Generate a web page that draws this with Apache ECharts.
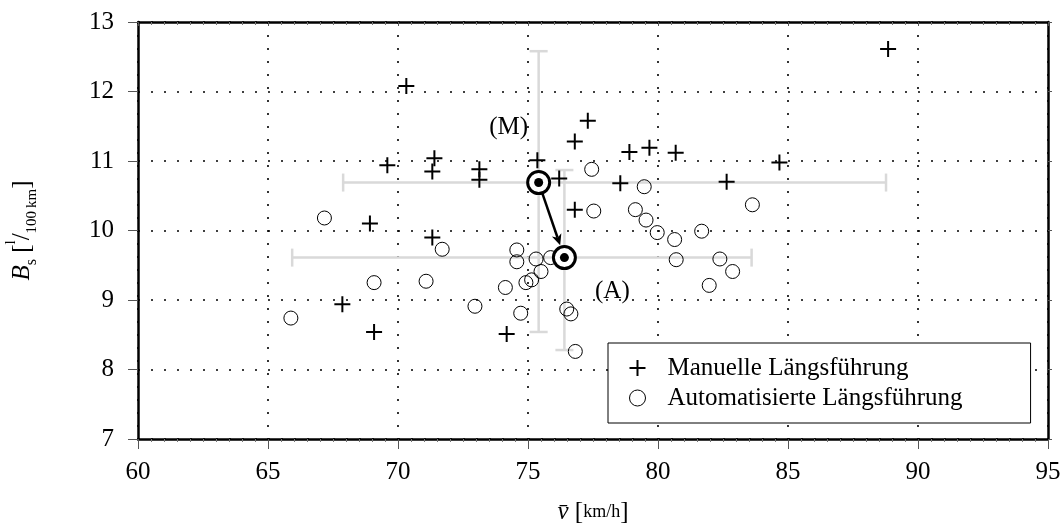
<!DOCTYPE html>
<html>
<head>
<meta charset="utf-8">
<script src="https://cdn.jsdelivr.net/npm/echarts@6/dist/echarts.min.js"></script>
<style>
  html, body { margin: 0; padding: 0; background: #fff; }
  #main { width: 1064px; height: 529px; }
</style>
</head>
<body>
<div id="main"></div>
<script>
// Manuelle Längsführung (+)
const manualV = [88.85, 70.32, 77.3, 76.8, 78.9, 79.67, 80.68, 75.36, 73.13, 73.13, 76.2, 78.55, 82.64, 76.8, 84.67, 69.59, 71.4, 71.32, 68.92, 71.32, 67.86, 69.08, 74.18];
const manualB = [12.61, 12.08, 11.58, 11.28, 11.13, 11.19, 11.12, 11.01, 10.88, 10.73, 10.75, 10.68, 10.70, 10.30, 10.98, 10.94, 11.04, 10.85, 10.10, 9.90, 8.94, 8.54, 8.51];

// Automatisierte Längsführung (o)
const autoV = [67.17, 71.7, 69.08, 71.08, 65.88, 77.45, 79.47, 77.53, 79.13, 79.54, 79.97, 80.64, 81.68, 83.63, 80.7, 82.38, 82.87, 81.97, 74.57, 74.57, 75.31, 75.87, 75.5, 75.14, 74.92, 74.13, 72.96, 74.72, 76.49, 76.65, 76.82];
const autoB = [10.18, 9.73, 9.25, 9.27, 8.74, 10.88, 10.63, 10.28, 10.30, 10.15, 9.97, 9.87, 9.99, 10.37, 9.58, 9.59, 9.41, 9.21, 9.72, 9.55, 9.59, 9.61, 9.41, 9.29, 9.25, 9.18, 8.91, 8.81, 8.87, 8.80, 8.26];

// Mittelwerte (M) und (A) mit Streuung
const meanLabels = ['(M)', '(A)'];
const meanV = [75.41, 76.4];
const meanB = [10.69, 9.61];
const vLo = [67.89, 65.93];
const vHi = [88.77, 83.6];
const bLo = [8.54, 8.28];
const bHi = [12.58, 10.87];

const seriesNames = ['Manuelle Längsführung', 'Automatisierte Längsführung'];

const FONT = '"Liberation Serif", "DejaVu Serif", serif';
const crossPath = 'path://M7,0h2v7h7v2h-7v7h-2v-7h-7v-2h7z';

var chart = echarts.init(document.getElementById('main'));

const manualData = manualV.map((v, i) => [v, manualB[i]]);
const autoData = autoV.map((v, i) => [v, autoB[i]]);
const errData = meanV.map((v, i) => [v, meanB[i], vLo[i], vHi[i], bLo[i], bHi[i]]);
const labelOffsets = [[-30, -55], [48, 34]];
const meanData = meanV.map((v, i) => ({
  value: [v, meanB[i]],
  label: {
    show: true,
    formatter: meanLabels[i],
    position: 'inside',
    offset: labelOffsets[i],
    fontFamily: FONT,
    fontSize: 25,
    color: '#000'
  }
}));

var gridLine = { show: true, lineStyle: { color: '#000', type: [2, 11], width: 1.6 } };

var option = {
  animation: false,
  backgroundColor: '#fff',
  grid: { left: 138, right: 16, top: 22, bottom: 90, outerBoundsMode: 'none', containLabel: false },
  legend: {
    orient: 'vertical',
    left: 608,
    top: 343,
    padding: [12, 68, 12, 21],
    itemGap: 4,
    itemWidth: 16,
    itemHeight: 16,
    borderColor: '#000',
    borderWidth: 1,
    borderRadius: 0,
    backgroundColor: '#fff',
    formatter: '{t|{name}}',
    textStyle: {
      fontFamily: FONT, fontSize: 25, color: '#000', lineHeight: 26,
      rich: { t: { fontFamily: FONT, fontSize: 25, color: '#000', lineHeight: 26, padding: [0, 0, 0, 17] } }
    },
    data: [
      { name: seriesNames[0], icon: crossPath, itemStyle: { color: '#000' } },
      { name: seriesNames[1], icon: 'circle', itemStyle: { color: 'transparent', borderColor: '#000', borderWidth: 1 } }
    ]
  },
  xAxis: [
    {
      type: 'value', min: 60, max: 95, interval: 5, position: 'bottom',
      name: '{v|v\u0304} [{s|km/h}]',
      nameLocation: 'middle',
      nameGap: 61,
      nameTextStyle: {
        fontFamily: FONT, fontSize: 25, color: '#000',
        rich: {
          v: { fontFamily: FONT, fontSize: 25, fontStyle: 'italic', color: '#000' },
          s: { fontFamily: FONT, fontSize: 18, color: '#000' }
        }
      },
      axisLine: { show: true, lineStyle: { color: '#000', width: 2.5 } },
      axisTick: { show: true, inside: false, length: 10, lineStyle: { color: '#555', width: 1 } },
      minorTick: { show: true, splitNumber: 10, length: 3, lineStyle: { color: '#777' } },
      axisLabel: { fontFamily: FONT, fontSize: 25, color: '#000', margin: 21 },
      splitLine: gridLine
    },
    {
      type: 'value', min: 60, max: 95, interval: 5, position: 'top',
      axisLine: { show: true, lineStyle: { color: '#000', width: 2.5 } },
      axisTick: { show: true, inside: true, length: 4, lineStyle: { color: '#555' } },
      minorTick: { show: true, splitNumber: 10, length: 3, lineStyle: { color: '#777' } },
      axisLabel: { show: false },
      splitLine: { show: false }
    }
  ],
  yAxis: [
    {
      type: 'value', min: 7, max: 13, interval: 1, position: 'left',
      name: '{b|B}{s|s} [{n|l}/{d|100\u2009km}]',
      nameLocation: 'middle',
      nameRotate: 90,
      nameGap: 98,
      nameTextStyle: {
        fontFamily: FONT, fontSize: 25, color: '#000',
        rich: {
          b: { fontFamily: FONT, fontSize: 25, fontStyle: 'italic', color: '#000', lineHeight: 36 },
          s: { fontFamily: FONT, fontSize: 16, color: '#000', verticalAlign: 'bottom' },
          n: { fontFamily: FONT, fontSize: 15, color: '#000', verticalAlign: 'top' },
          d: { fontFamily: FONT, fontSize: 15, color: '#000', verticalAlign: 'bottom' }
        }
      },
      axisLine: { show: true, lineStyle: { color: '#000', width: 2.5 } },
      axisTick: { show: true, inside: false, length: 10, lineStyle: { color: '#555', width: 1 } },
      axisLabel: { fontFamily: FONT, fontSize: 25, color: '#000', margin: 24 },
      splitLine: gridLine
    },
    {
      type: 'value', min: 7, max: 13, interval: 1, position: 'right',
      axisLine: { show: true, lineStyle: { color: '#000', width: 2.5 } },
      axisTick: { show: true, inside: false, length: 4, lineStyle: { color: '#555' } },
      axisLabel: { show: false },
      splitLine: { show: false }
    }
  ],
  series: [
    {
      // Streubalken
      type: 'custom',
      z: 1,
      silent: true,
      data: errData,
      renderItem: function (params, api) {
        var c = api.coord([api.value(0), api.value(1)]);
        var l = api.coord([api.value(2), api.value(1)]);
        var r = api.coord([api.value(3), api.value(1)]);
        var b = api.coord([api.value(0), api.value(4)]);
        var t = api.coord([api.value(0), api.value(5)]);
        var st = { stroke: '#d9d9d9', lineWidth: 2.5 };
        var cap = 9;
        return {
          type: 'group',
          children: [
            { type: 'line', shape: { x1: l[0], y1: c[1], x2: r[0], y2: c[1] }, style: st },
            { type: 'line', shape: { x1: l[0], y1: c[1] - cap, x2: l[0], y2: c[1] + cap }, style: st },
            { type: 'line', shape: { x1: r[0], y1: c[1] - cap, x2: r[0], y2: c[1] + cap }, style: st },
            { type: 'line', shape: { x1: c[0], y1: b[1], x2: c[0], y2: t[1] }, style: st },
            { type: 'line', shape: { x1: c[0] - cap, y1: b[1], x2: c[0] + cap, y2: b[1] }, style: st },
            { type: 'line', shape: { x1: c[0] - cap, y1: t[1], x2: c[0] + cap, y2: t[1] }, style: st }
          ]
        };
      }
    },
    {
      name: seriesNames[0],
      type: 'scatter',
      z: 2,
      symbol: crossPath,
      symbolSize: 16,
      itemStyle: { color: '#000', opacity: 1 },
      data: manualData
    },
    {
      name: seriesNames[1],
      type: 'scatter',
      z: 2,
      symbol: 'circle',
      symbolSize: 14,
      itemStyle: { color: 'transparent', borderColor: '#000', borderWidth: 1, opacity: 1 },
      data: autoData
    },
    {
      // Pfeil von (M) nach (A)
      type: 'custom',
      z: 3,
      silent: true,
      data: [[meanV[0], meanB[0], meanV[1], meanB[1]]],
      renderItem: function (params, api) {
        var p1 = api.coord([api.value(0), api.value(1)]);
        var p2 = api.coord([api.value(2), api.value(3)]);
        var dx = p2[0] - p1[0], dy = p2[1] - p1[1];
        var len = Math.sqrt(dx * dx + dy * dy);
        var ux = dx / len, uy = dy / len;
        var s = [p1[0] + ux * 12, p1[1] + uy * 12];
        var e = [p2[0] - ux * 13, p2[1] - uy * 13];
        var ah = 11, aw = 5;
        var bx = e[0] - ux * ah, by = e[1] - uy * ah;
        return {
          type: 'group',
          children: [
            { type: 'line', shape: { x1: s[0], y1: s[1], x2: bx + ux * 3, y2: by + uy * 3 }, style: { stroke: '#000', lineWidth: 2.5 } },
            {
              type: 'polygon',
              shape: { points: [e, [bx - uy * aw, by + ux * aw], [bx + ux * 3, by + uy * 3], [bx + uy * aw, by - ux * aw]] },
              style: { fill: '#000' }
            }
          ]
        };
      }
    },
    {
      type: 'scatter',
      z: 4,
      silent: true,
      symbol: 'circle',
      symbolSize: 22,
      itemStyle: { color: '#fff', borderColor: '#000', borderWidth: 3, opacity: 1 },
      data: meanData
    },
    {
      type: 'scatter',
      z: 5,
      silent: true,
      symbol: 'circle',
      symbolSize: 9,
      itemStyle: { color: '#000', opacity: 1 },
      data: meanV.map((v, i) => [v, meanB[i]])
    }
  ]
};

chart.setOption(option);
</script>
</body>
</html>
